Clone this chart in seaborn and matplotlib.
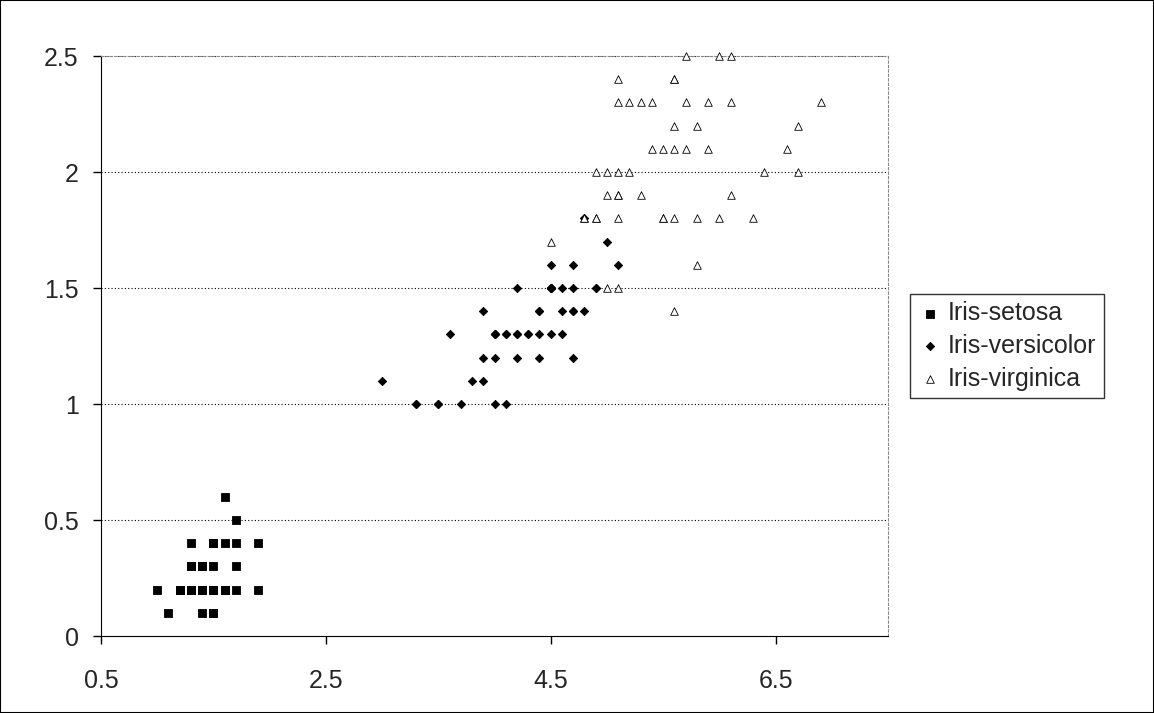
import matplotlib
matplotlib.use("Agg")
import matplotlib.pyplot as plt
import seaborn as sns
import pandas as pd

setosa_len = [1.4,1.4,1.3,1.5,1.4,1.7,1.4,1.5,1.4,1.5,1.5,1.6,1.4,1.1,1.2,1.5,1.3,1.4,1.7,1.5,
              1.7,1.5,1.0,1.7,1.9,1.6,1.6,1.5,1.4,1.6,1.6,1.5,1.5,1.4,1.5,1.2,1.3,1.5,1.3,1.5,
              1.3,1.3,1.3,1.6,1.9,1.4,1.6,1.4,1.5,1.4]
setosa_wid = [0.2,0.2,0.2,0.2,0.2,0.4,0.3,0.2,0.2,0.1,0.2,0.2,0.1,0.1,0.2,0.4,0.4,0.3,0.3,0.3,
              0.2,0.4,0.2,0.5,0.2,0.2,0.4,0.2,0.2,0.2,0.2,0.4,0.1,0.2,0.1,0.2,0.2,0.1,0.2,0.2,
              0.3,0.3,0.2,0.6,0.4,0.3,0.2,0.2,0.2,0.2]
versi_len = [4.7,4.5,4.9,4.0,4.6,4.5,4.7,3.3,4.6,3.9,3.5,4.2,4.0,4.7,3.6,4.4,4.5,4.1,4.5,3.9,
             4.8,4.0,4.9,4.7,4.3,4.4,4.8,5.0,4.5,3.5,3.8,3.7,3.9,5.1,4.5,4.5,4.7,4.4,4.1,4.0,
             4.4,4.6,4.0,3.3,4.2,4.2,4.2,4.3,3.0,4.1]
versi_wid = [1.4,1.5,1.5,1.3,1.5,1.3,1.6,1.0,1.3,1.4,1.0,1.5,1.0,1.4,1.3,1.4,1.5,1.0,1.5,1.1,
             1.8,1.3,1.5,1.2,1.3,1.4,1.4,1.7,1.5,1.0,1.1,1.0,1.2,1.6,1.5,1.6,1.5,1.3,1.3,1.3,
             1.2,1.4,1.2,1.0,1.3,1.2,1.3,1.3,1.1,1.3]
virg_len = [6.0,5.1,5.9,5.6,5.8,6.6,4.5,6.3,5.8,6.1,5.1,5.3,5.5,5.0,5.1,5.3,5.5,6.7,6.9,5.0,
            5.7,4.9,6.7,4.9,5.7,6.0,4.8,4.9,5.6,5.8,6.1,6.4,5.6,5.1,5.6,6.1,5.6,5.5,4.8,5.4,
            5.6,5.1,5.1,5.9,5.7,5.2,5.0,5.2,5.4,5.1]
virg_wid = [2.5,1.9,2.1,1.8,2.2,2.1,1.7,1.8,1.8,2.5,2.0,1.9,2.1,2.0,2.4,2.3,1.8,2.2,2.3,1.5,
            2.3,2.0,2.0,1.8,2.1,1.8,1.8,1.8,2.1,1.6,1.9,2.0,2.2,1.5,1.4,2.3,2.4,1.8,1.8,2.1,
            2.4,2.3,1.9,2.3,2.5,2.3,1.9,2.0,2.3,1.8]
species = ["Iris-setosa", "Iris-versicolor", "Iris-virginica"]
x_ticks = [0.5, 2.5, 4.5, 6.5]
y_ticks = [0, 0.5, 1, 1.5, 2, 2.5]

df = pd.DataFrame({
    "len": setosa_len + versi_len + virg_len,
    "wid": setosa_wid + versi_wid + virg_wid,
    "sp": [species[0]]*len(setosa_len) + [species[1]]*len(versi_len) + [species[2]]*len(virg_len),
})

sns.set_style("white")
plt.rcParams['font.family'] = ['Liberation Sans', 'DejaVu Sans']
fig = plt.figure(figsize=(11.54, 7.13), dpi=100)
ax = fig.add_axes([101/1154, 1-636/713, (888-101)/1154, (636-56)/713])

markers = {species[0]: "s", species[1]: "D", species[2]: "^"}
sizes = {species[0]: 30, species[1]: 18, species[2]: 30}
for sp in species:
    d = df[df.sp == sp]
    face = "white" if sp == species[2] else "black"
    sns.scatterplot(data=d, x="len", y="wid", marker=markers[sp], s=sizes[sp],
                    color=face, edgecolor="black", linewidth=0.6, ax=ax, label=sp,
                    clip_on=False, zorder=3)

ax.set_xlim(0.5, 7.5)
ax.set_ylim(0, 2.5)
ax.set_xticks(x_ticks)
ax.set_xticklabels([str(v) for v in x_ticks])
ax.set_yticks(y_ticks)
ax.set_yticklabels(["0", "0.5", "1", "1.5", "2", "2.5"])
ax.set_xlabel("")
ax.set_ylabel("")
for y in y_ticks[1:]:
    ax.axhline(y, color="black", linestyle=(0, (1, 2)), linewidth=0.8, zorder=0)
ax.spines["top"].set_color("#888888"); ax.spines["top"].set_linestyle((0, (2, 2)))
ax.spines["right"].set_color("#888888"); ax.spines["right"].set_linestyle((0, (2, 2)))
ax.spines["left"].set_color("black"); ax.spines["bottom"].set_color("black")
ax.tick_params(axis="both", which="major", direction="out", length=6, width=1, labelsize=18,
               color="black", left=True, bottom=True)
ax.tick_params(axis="y", pad=10)
ax.tick_params(axis="x", pad=18)

leg = ax.legend(loc="center left", bbox_to_anchor=((910-101)/(888-101), 0.5), fontsize=18,
                frameon=True, fancybox=False, edgecolor="black", handletextpad=0.2,
                borderpad=0.3, labelspacing=0.35, handlelength=1.0, borderaxespad=0)
leg.get_frame().set_linewidth(1.0)

fig.patches.append(plt.Rectangle((0, 0), 1, 1, transform=fig.transFigure, fill=False,
                                 edgecolor="black", linewidth=1.5))
fig.savefig("out.png", dpi=100)
